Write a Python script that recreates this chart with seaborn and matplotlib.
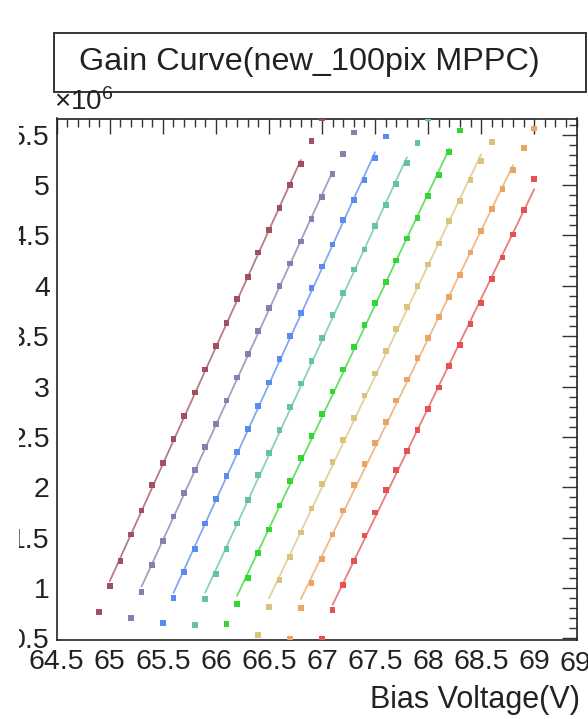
import numpy as np
import pandas as pd
import matplotlib
matplotlib.use("Agg")
import matplotlib.pyplot as plt
from matplotlib.patches import Rectangle
from matplotlib.ticker import MultipleLocator, FuncFormatter
import seaborn as sns

# Gain (x1e6) versus bias voltage for eight MPPC channels, 0.1 V steps.
channels = ["ch1", "ch2", "ch3", "ch4", "ch5", "ch6", "ch7", "ch8"]
start_volt = [64.9, 65.2, 65.5, 65.8, 66.1, 66.4, 66.7, 67.0]

gain_ch1 = [0.76, 1.02, 1.27, 1.53, 1.77, 2.02, 2.24, 2.48, 2.71, 2.94, 3.17,
            3.40, 3.63, 3.87, 4.09, 4.33, 4.55, 4.77, 5.00, 5.21, 5.44, 5.66]
gain_ch2 = [0.70, 0.96, 1.23, 1.47, 1.71, 1.94, 2.17, 2.40, 2.63, 2.86, 3.09,
            3.32, 3.55, 3.78, 4.00, 4.22, 4.44, 4.66, 4.88, 5.11, 5.31, 5.52]
gain_ch3 = [0.65, 0.90, 1.16, 1.39, 1.64, 1.88, 2.11, 2.35, 2.58, 2.81, 3.04,
            3.27, 3.50, 3.73, 3.98, 4.19, 4.41, 4.65, 4.85, 5.05, 5.27, 5.48]
gain_ch4 = [0.63, 0.89, 1.14, 1.39, 1.64, 1.87, 2.12, 2.34, 2.57, 2.80, 3.03,
            3.25, 3.48, 3.71, 3.93, 4.16, 4.36, 4.59, 4.80, 5.01, 5.22, 5.42, 5.66]
gain_ch5 = [0.64, 0.84, 1.10, 1.35, 1.58, 1.82, 2.06, 2.29, 2.51, 2.73, 2.95,
            3.17, 3.39, 3.61, 3.83, 4.04, 4.25, 4.47, 4.67, 4.89, 5.10, 5.33, 5.54]
gain_ch6 = [0.53, 0.81, 1.08, 1.31, 1.55, 1.79, 2.03, 2.25, 2.47, 2.69, 2.91,
            3.13, 3.35, 3.57, 3.79, 4.00, 4.21, 4.42, 4.64, 4.84, 5.05, 5.24, 5.43, 5.69]
gain_ch7 = [0.50, 0.80, 1.05, 1.29, 1.53, 1.77, 2.02, 2.23, 2.44, 2.65, 2.86,
            3.07, 3.28, 3.48, 3.69, 3.89, 4.11, 4.33, 4.54, 4.76, 4.96, 5.15, 5.37, 5.56]
gain_ch8 = [0.50, 0.78, 1.03, 1.27, 1.52, 1.75, 1.97, 2.17, 2.36, 2.57, 2.78,
            2.99, 3.20, 3.41, 3.62, 3.83, 4.07, 4.28, 4.51, 4.75, 5.06]

# Linear-fit voltage window for each channel
fit_low = [65.0, 65.3, 65.6, 65.9, 66.2, 66.5, 66.8, 67.1]
fit_high = [66.8, 67.1, 67.5, 67.8, 68.2, 68.5, 68.8, 69.0]

colors = ["#a0505f", "#8282ae", "#5a8cf0", "#66c49a",
          "#33d633", "#d8c47a", "#eca462", "#e45252"]

x_ticks = [64.5, 65, 65.5, 66, 66.5, 67, 67.5, 68, 68.5, 69]
y_ticks = [0.5, 1, 1.5, 2, 2.5, 3, 3.5, 4, 4.5, 5, 5.5]

gains = [gain_ch1, gain_ch2, gain_ch3, gain_ch4,
         gain_ch5, gain_ch6, gain_ch7, gain_ch8]

rows = []
for ch, v0, g in zip(channels, start_volt, gains):
    volts = np.round(v0 + 0.1 * np.arange(len(g)), 2)
    for v, val in zip(volts, g):
        rows.append({"channel": ch, "volt": v, "gain": val})
df = pd.DataFrame(rows)

sns.set_theme(style="white")
plt.rcParams["font.family"] = ["Liberation Sans", "DejaVu Sans"]
plt.rcParams["mathtext.fontset"] = "custom"
plt.rcParams["mathtext.rm"] = "Liberation Sans"

W, H = 588, 719
fig = plt.figure(figsize=(W / 100, H / 100), dpi=100)
fig.patch.set_facecolor("white")
left, right, top, bottom = 56.7, 576.7, 118.5, 640.4
ax = fig.add_axes([left / W, 1 - bottom / H, (right - left) / W, (bottom - top) / H])
ax.set_xlim(64.5, 69.4)
ax.set_ylim(0.48, 5.66)

palette = dict(zip(channels, colors))

# fitted straight lines over each channel's window
for ch, lo, hi in zip(channels, fit_low, fit_high):
    sub = df[(df.channel == ch) & (df.volt >= lo - 1e-6) & (df.volt <= hi + 1e-6)]
    p = np.polyfit(sub.volt, sub.gain, 1)
    xs = np.array([lo, hi])
    line = pd.DataFrame({"volt": xs, "gain": np.polyval(p, xs)})
    sns.lineplot(data=line, x="volt", y="gain", color=palette[ch],
                 lw=1.3, alpha=0.75, ax=ax, legend=False)

sns.scatterplot(data=df, x="volt", y="gain", hue="channel", palette=palette,
                marker="s", s=17, linewidth=0, legend=False, ax=ax, zorder=3)

# axes styled like a ROOT frame
for sp in ax.spines.values():
    sp.set_color("#222222")
    sp.set_linewidth(1.2)
ax.xaxis.set_minor_locator(MultipleLocator(0.1))
ax.yaxis.set_minor_locator(MultipleLocator(0.1))
ax.set_xticks(x_ticks)
ax.set_yticks(y_ticks)
fmt = FuncFormatter(lambda v, pos: f"{v:g}")
ax.xaxis.set_major_formatter(fmt)
ax.yaxis.set_major_formatter(fmt)
ax.tick_params(which="both", direction="in", top=True, right=True,
               color="#333333", width=1.0, labelsize=20.5, colors="#222222")
ax.tick_params(which="major", length=11)
ax.tick_params(which="minor", length=5.5)
ax.tick_params(axis="x", pad=6)
ax.tick_params(axis="y", pad=5)
ax.set_xlabel("")
ax.set_ylabel("")
ax.text(69.5, -0.02, "69.5", transform=ax.get_xaxis_transform(), ha="center",
        va="top", fontsize=20.5, color="#222222", clip_on=False)

# white margin strip at the canvas' left edge
fig.patches.append(Rectangle((0, 1 - 650 / H), 19 / W, 540 / H,
                             transform=fig.transFigure, facecolor="white",
                             edgecolor="none", zorder=10))

fig.text(580 / W, 1 - 700 / H, "Bias Voltage(V)", ha="right", va="center",
         fontsize=22, color="#222222")
fig.text(54 / W, 1 - 102 / H, r"$\mathregular{\times10^{6}}$", ha="left",
         va="center", fontsize=20, color="#222222")

# title box
fig.patches.append(Rectangle((54 / W, 1 - 92 / H), 532 / W, 59 / H,
                             transform=fig.transFigure, facecolor="white",
                             edgecolor="#333333", linewidth=1.4))
fig.text(79 / W, 1 - 62 / H, "Gain Curve(new_100pix MPPC)", ha="left",
         va="center", fontsize=23.3, color="#222222")

fig.savefig("out.png", dpi=100)
